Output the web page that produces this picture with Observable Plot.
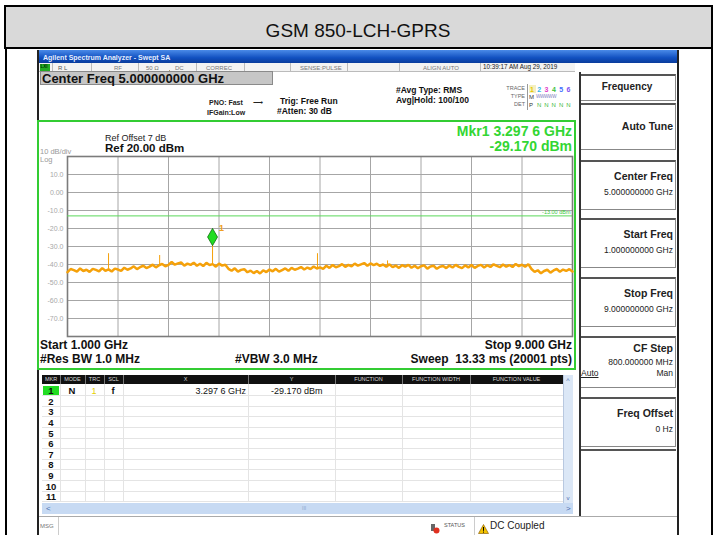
<!DOCTYPE html>
<html><head><meta charset="utf-8">
<script src="https://cdn.jsdelivr.net/npm/d3@7"></script>
<script src="https://cdn.jsdelivr.net/npm/@observablehq/plot@0.6"></script>
<style>
html,body{margin:0;padding:0;background:#fff;}
body{width:717px;height:535px;position:relative;overflow:hidden;font-family:"Liberation Sans",Arial,sans-serif;color:#111;}
.a{position:absolute;white-space:nowrap;box-sizing:border-box;}
</style></head><body>
<script>
// ---------------- data ----------------
const pageTitle = "GSM 850-LCH-GPRS";
const traceGHz = [
1.00,1.05,1.10,1.15,1.20,1.25,1.30,1.35,1.40,1.45,1.50,1.55,1.60,1.65,1.70,1.75,1.80,1.85,1.90,1.95,
2.00,2.05,2.10,2.15,2.20,2.25,2.30,2.35,2.40,2.45,2.50,2.55,2.60,2.65,2.70,2.75,2.80,2.85,2.90,2.95,
3.00,3.05,3.10,3.15,3.20,3.25,3.30,3.35,3.40,3.45,3.50,3.55,3.60,3.65,3.70,3.75,3.80,3.85,3.90,3.95,
4.00,4.05,4.10,4.15,4.20,4.25,4.30,4.35,4.40,4.45,4.50,4.55,4.60,4.65,4.70,4.75,4.80,4.85,4.90,4.95,
5.00,5.05,5.10,5.15,5.20,5.25,5.30,5.35,5.40,5.45,5.50,5.55,5.60,5.65,5.70,5.75,5.80,5.85,5.90,5.95,
6.00,6.05,6.10,6.15,6.20,6.25,6.30,6.35,6.40,6.45,6.50,6.55,6.60,6.65,6.70,6.75,6.80,6.85,6.90,6.95,
7.00,7.05,7.10,7.15,7.20,7.25,7.30,7.35,7.40,7.45,7.50,7.55,7.60,7.65,7.70,7.75,7.80,7.85,7.90,7.95,
8.00,8.05,8.10,8.15,8.20,8.25,8.30,8.35,8.40,8.45,8.50,8.55,8.60,8.65,8.70,8.75,8.80,8.85,8.90,8.95,
9.00];
const traceDbm = [
-44.3,-42.5,-43.1,-44.0,-42.2,-43.6,-42.9,-44.1,-42.4,-43.0,-43.8,-42.0,-43.5,-42.7,-43.9,-42.3,-42.8,-43.6,-41.8,-42.9,
-42.2,-41.0,-42.6,-41.5,-40.7,-42.0,-41.2,-40.1,-41.6,-40.4,-39.7,-41.0,-40.2,-38.6,-40.1,-39.4,-38.9,-40.6,-39.5,-40.2,
-39.0,-40.7,-39.6,-40.9,-39.1,-40.3,-39.8,-41.2,-39.5,-40.6,-40.1,-42.4,-43.5,-42.1,-44.0,-43.0,-42.6,-44.3,-43.4,-44.8,
-43.6,-45.0,-43.2,-44.2,-42.8,-43.8,-42.4,-44.0,-43.1,-42.2,-43.5,-41.9,-42.9,-42.3,-41.4,-42.8,-41.7,-42.5,-41.1,-42.2,
-41.6,-42.4,-40.7,-41.9,-40.3,-41.5,-40.9,-39.8,-41.3,-40.2,-41.0,-39.5,-40.6,-39.9,-39.2,-40.7,-39.4,-40.3,-39.6,-40.8,
-40.0,-41.3,-39.9,-41.5,-40.6,-41.9,-40.4,-41.2,-40.2,-41.8,-40.7,-42.1,-41.0,-40.5,-42.3,-41.1,-40.7,-42.4,-41.2,-40.8,
-42.0,-40.6,-41.7,-40.2,-41.3,-42.0,-40.5,-41.6,-40.3,-41.9,-40.8,-40.2,-41.7,-40.4,-41.4,-39.9,-40.8,-41.5,-40.0,-41.2,
-40.3,-41.4,-39.7,-40.9,-40.1,-41.3,-39.8,-42.5,-44.1,-43.2,-44.9,-43.6,-42.9,-44.5,-43.3,-42.5,-44.0,-42.8,-43.6,-42.6,
-43.9];
const spurGHz  = [1.65, 2.46, 3.2976, 4.96, 6.07];
const spurTop  = [-34.0, -35.0, -29.17, -34.0, -38.0];
const spurBase = [-42.8, -40.9, -40.5, -41.8, -40.6];
const xGridGHz = [1.8, 2.6, 3.4, 4.2, 5.0, 5.8, 6.6, 7.4, 8.2];
const yTickDbm = [10, 0, -10, -20, -30, -40, -50, -60, -70];
const yTickLabels = ["10.0","0.00","-10.0","-20.0","-30.0","-40.0","-50.0","-60.0","-70.0"];
const displayLineDbm = -13;
const displayLineLabel = "-13.00 dBm";
const markerGHz = 3.2976, markerDbm = -29.17, markerName = "1";
const mkrColumns = ["MKR","MODE","TRC","SCL","X","Y","FUNCTION","FUNCTION WIDTH","FUNCTION VALUE"];
const mkrNumbers = ["1","2","3","4","5","6","7","8","9","10","11"];
const mkr1Row = {mode:"N", trc:"1", scl:"f", x:"3.297 6 GHz", y:"-29.170 dBm"};
const softkeys = [
  {title:"Center Freq", value:"5.000000000 GHz"},
  {title:"Start Freq", value:"1.000000000 GHz"},
  {title:"Stop Freq", value:"9.000000000 GHz"},
  {title:"CF Step", value:"800.000000 MHz"},
  {title:"Freq Offset", value:"0 Hz"}
];

// ---------------- helpers ----------------
const W = 717;
function box(x,y,w,h,st){const d=document.createElement('div');d.className='a';
  Object.assign(d.style,{left:x+'px',top:y+'px',width:w+'px',height:h+'px'},st||{});document.body.appendChild(d);return d;}
function txt(s,x,y,size,o){o=o||{};const d=document.createElement('div');d.className='a';d.textContent=s;
  const st={fontSize:size+'px',lineHeight:size+'px',top:(y-size*0.49)+'px',fontWeight:o.bold?'bold':'normal',color:o.color||'#111'};
  if(o.anchor==='end'){st.right=(W-x)+'px';}
  else if(o.anchor==='middle'){st.left=(x-150)+'px';st.width='300px';st.textAlign='center';}
  else st.left=x+'px';
  Object.assign(d.style,st,o.style||{});document.body.appendChild(d);return d;}

// ---------------- document table ----------------
box(4,5,709,44,{background:'#d9d9d9',border:'2px solid #000'});
txt(pageTitle,358,30,19,{anchor:'middle',color:'#111'});
box(5,49,2,486,{background:'#000'});
box(711,49,2,486,{background:'#000'});

// ---------------- analyzer frame ----------------
box(37,50,642,485,{background:'#fff',borderLeft:'2px solid #222',borderRight:'2px solid #222'});
box(39,50,638,13,{background:'linear-gradient(#4a8ae8,#1150c0 60%,#0a3c9c)'});
txt("Agilent Spectrum Analyzer - Swept SA",43,57,7,{bold:true,color:'#e6efff'});

// status row
box(39,63,536,9,{background:'#f3f3f3',borderBottom:'1px solid #bbb'});
box(40,64,10,7,{background:'#2a2'});
txt("LXI",40.5,67.5,4.5,{bold:true,color:'#030'});
[52,91,138,196,244,290,347,399,480].forEach(x=>box(x,63,1,9,{background:'#bbb'}));
txt("R L",58,67.5,6,{color:'#555'});
txt("RF",114,67.5,6,{color:'#777'});
txt("50 Ω",146,67.5,6,{color:'#777'});
box(165,64,9,8,{});
document.body.lastChild.innerHTML='<svg width="9" height="8"><path d="M4.5 0.5 L8.5 7.5 L0.5 7.5 Z" fill="#f2c200" stroke="#805000" stroke-width="0.6"/><rect x="4" y="2.6" width="1" height="2.8" fill="#000"/><rect x="4" y="6" width="1" height="0.9" fill="#000"/></svg>';
txt("DC",175,67.5,6,{color:'#777'});
txt("CORREC",206,67.5,6,{color:'#777'});
txt("SENSE:PULSE",300,67.5,6,{color:'#777'});
txt("ALIGN AUTO",423,67.5,6,{color:'#777'});
txt("10:39:17 AM Aug 29, 2019",483,67.5,6.3,{color:'#222'});

// center freq
box(40,71,233,14,{background:'#c6c6c6',border:'1px solid #8a8a8a'});
txt("Center Freq 5.000000000 GHz",42,78,13,{bold:true,color:'#111'});
txt("PNO: Fast",209,102,7,{bold:true,color:'#222'});
txt("⟶",253,102,7,{color:'#222'});
txt("IFGain:Low",207,112.5,7,{bold:true,color:'#222'});
txt("Trig: Free Run",280,101,8.5,{bold:true,color:'#111'});
txt("#Atten: 30 dB",277,111.5,8.5,{bold:true,color:'#111'});
txt("#Avg Type: RMS",396,90,8.5,{bold:true,color:'#111'});
txt("Avg|Hold: 100/100",396,100.5,8.5,{bold:true,color:'#111'});
txt("TRACE",525,89,5.5,{anchor:'end',color:'#666'});
txt("TYPE",525,97,5.5,{anchor:'end',color:'#666'});
txt("DET",525,105,5.5,{anchor:'end',color:'#666'});
box(527,84,1,26,{background:'#999'});
const traceNumColors = ['#e6c800','#30b8e8','#e040c8','#40c040','#4070ff','#8050f0'];
box(529,85,7,8,{background:'#f4f0c0'});
["1","2","3","4","5","6"].forEach((s,i)=>txt(s,530+i*7.3,89,7,{color:traceNumColors[i],bold:true}));
txt("M",529,97,6,{color:'#333'});
txt("WWWWW",536,97,4.6,{color:'#8080c0',style:{letterSpacing:'-0.3px'}});
txt("P",529,105,6,{color:'#333'});
["N","N","N","N","N"].forEach((s,i)=>txt(s,537+i*7.3,105,6,{color:'#40b840'}));

// ---------------- graph box ----------------
box(37,120,539,250,{border:'2px solid #33cc33',background:'#fff'});
const holder = box(39,122,535,246,{});
const rows = traceGHz.map((f,i)=>({f, v: traceDbm[i]}));
const spurs = spurGHz.map((f,i)=>({f, top: spurTop[i], base: spurBase[i]}));
const yLabel = new Map(yTickDbm.map((d,i)=>[d, yTickLabels[i]]));
const chart = Plot.plot({
  width:535, height:246, marginLeft:28, marginRight:2, marginTop:34, marginBottom:32,
  x:{domain:[1,9], axis:null},
  y:{domain:[-80,20], axis:null},
  style:{background:'transparent', fontFamily:'Liberation Sans, Arial, sans-serif', overflow:'visible'},
  marks:[
    Plot.gridX(xGridGHz,{stroke:'#a6a6a6', strokeOpacity:1, strokeWidth:1}),
    Plot.gridY(yTickDbm,{stroke:'#a6a6a6', strokeOpacity:1, strokeWidth:1}),
    Plot.frame({stroke:'#7c7c7c', strokeWidth:1.6}),
    Plot.axisY(yTickDbm,{anchor:'left', tickSize:0, tickPadding:4, label:null, tickFormat:d=>yLabel.get(d), fill:'#a8a8a8', fontSize:7}),
    Plot.ruleY([displayLineDbm],{stroke:'#5ad85a', strokeWidth:1}),
    Plot.text([displayLineLabel],{x:()=>9, y:()=>displayLineDbm, text:d=>d, textAnchor:'end', dx:-2, dy:-4, fontSize:5.5, fill:'#40c840'}),
    Plot.ruleX(spurs,{x:'f', y1:'base', y2:'top', stroke:'#f5a10a', strokeWidth:1}),
    Plot.line(rows,{x:'f', y:'v', stroke:'#f5a10a', strokeWidth:2.5, strokeLinejoin:'miter'}),
    Plot.dot([markerName],{x:()=>markerGHz, y:()=>markerDbm, symbol:'diamond', r:5.2, dy:-8, fill:'#22dd22', stroke:'#0b6e0b', strokeWidth:0.8}),
    Plot.text([markerName],{x:()=>markerGHz, y:()=>markerDbm, text:d=>d, dx:9, dy:-17, fontSize:9, fontWeight:'bold', fill:'#f0a020'})
  ]
});
holder.appendChild(chart);

txt("Ref Offset 7 dB",105,138,9,{color:'#222'});
txt("Ref 20.00 dBm",105,149,11.5,{bold:true,color:'#111'});
txt("10 dB/div",40,151.5,7.5,{color:'#9a9a9a'});
txt("Log",40,159.5,7.5,{color:'#9a9a9a'});
txt("Mkr1 3.297 6 GHz",572,131,14,{anchor:'end',bold:true,color:'#33d633'});
txt("-29.170 dBm",572,146,14,{anchor:'end',bold:true,color:'#33d633'});
txt("Start 1.000 GHz",40,345,12,{bold:true});
txt("#Res BW 1.0 MHz",40,359,12,{bold:true});
txt("#VBW 3.0 MHz",235,359,12,{bold:true});
txt("Stop 9.000 GHz",572,345,12,{anchor:'end',bold:true});
txt("Sweep  13.33 ms (20001 pts)",572,359,12,{anchor:'end',bold:true,style:{whiteSpace:'pre'}});

// ---------------- marker table ----------------
const colEdges = [42,60,85,104,123,248,335,402,470,563];
box(42,375,531,9,{background:'#111'});
mkrColumns.forEach((c,i)=>{
  txt(c,(colEdges[i]+colEdges[i+1])/2,379.5,5.5,{anchor:'middle',color:'#d8d8d8'});
  if(i>0) box(colEdges[i],375,1,9,{background:'#777'});
});
const rowH = 10.6, row0 = 385;
mkrNumbers.forEach((n,i)=>{
  const y = row0 + i*rowH;
  box(42,y+rowH-0.5,521,1,{background:'#e4e4e4'});
  if(i===0) box(43,y+1,16,rowH-1.5,{background:'#22dd22'});
  txt(n,51,y+rowH/2+0.5,9.5,{anchor:'middle',bold:true});
});
colEdges.slice(1,9).forEach(x=>box(x,384,1,117,{background:'#e4e4e4'}));
txt(mkr1Row.mode,72,391,9.5,{anchor:'middle',bold:true});
txt(mkr1Row.trc,94,391,9,{anchor:'middle',color:'#e6d000'});
txt(mkr1Row.scl,113,391,9.5,{anchor:'middle',bold:true});
txt(mkr1Row.x,246,391,9,{anchor:'end',color:'#111'});
txt(mkr1Row.y,271,391,9,{color:'#111'});
// scrollbars
box(563,375,10,129,{background:'#dbe7f6',borderLeft:'1px solid #b8c8e0'});
txt("^",568,380,7,{anchor:'middle',color:'#4a6fb0'});
txt("v",568,498,6,{anchor:'middle',color:'#4a6fb0'});
box(42,503,531,11,{background:'#c7daf3'});
txt("<",46,508.5,8,{color:'#4a6fb0'});
txt(">",566,508.5,8,{color:'#4a6fb0'});
txt("III",302,508.5,5,{color:'#8aa4cc'});

// ---------------- status bar ----------------
box(39,516,638,1,{background:'#aaa'});
txt("MSG",40,525.5,6,{color:'#777'});
box(58,517,1,18,{background:'#ccc'});
box(430,520,10,11,{});
document.body.lastChild.innerHTML='<svg width="10" height="11"><rect x="1" y="1" width="4" height="7" fill="#666"/><circle cx="6.5" cy="7.5" r="3" fill="#e03020"/></svg>';
txt("STATUS",444,525.5,5.5,{color:'#555'});
box(474,517,1,18,{background:'#ccc'});
box(478,520,11,10,{});
document.body.lastChild.innerHTML='<svg width="11" height="10"><path d="M5.5 0.5 L10.5 9.5 L0.5 9.5 Z" fill="#f2c200" stroke="#805000" stroke-width="0.6"/><rect x="5" y="3" width="1" height="3.8" fill="#000"/><rect x="5" y="7.6" width="1" height="1" fill="#000"/></svg>';
txt("DC Coupled",490,525.5,10,{color:'#222'});

// ---------------- softkeys ----------------
box(579,72,98,444,{background:'#fff',borderLeft:'2px solid #333'});
function skBox(y,h){box(581,y,95,h,{background:'#fff',borderTop:'2px solid #555',borderBottom:'1px solid #888',borderRight:'1px solid #888'});}
skBox(74,27); txt("Frequency",627,87,10,{anchor:'middle',bold:true,color:'#222'});
skBox(103,47); txt("Auto Tune",673,126,10.5,{anchor:'end',bold:true,color:'#222'});
const skTops = [160,218,277,336,397];
softkeys.forEach((k,i)=>{
  const y = skTops[i];
  skBox(y, i===3?52:50);
  txt(k.title,673,y+(i===3?12:16),10.5,{anchor:'end',bold:true,color:'#222'});
  txt(k.value,673,y+(i===3?26:32),8.5,{anchor:'end',color:'#222'});
});
txt("Auto",581,373,8.5,{color:'#222',style:{textDecoration:'underline'}});
txt("Man",673,373,8.5,{anchor:'end',color:'#222'});
box(581,449,95,67,{background:'#fff',borderTop:'2px solid #555'});
</script>
</body></html>
